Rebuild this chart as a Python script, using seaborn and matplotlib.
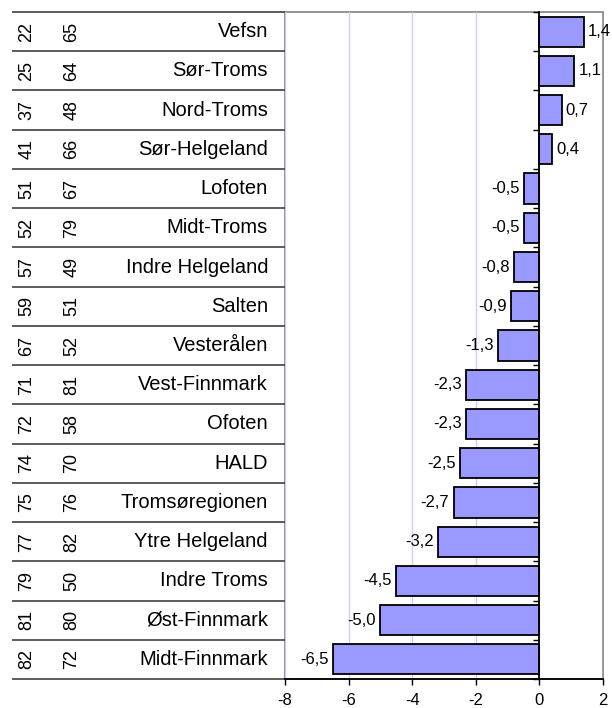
import numpy as np
import pandas as pd
import matplotlib
matplotlib.use("Agg")
import matplotlib.pyplot as plt
import matplotlib.transforms as mtransforms
import seaborn as sns

regions = ["Vefsn", "Sør-Troms", "Nord-Troms", "Sør-Helgeland", "Lofoten",
           "Midt-Troms", "Indre Helgeland", "Salten", "Vesterålen",
           "Vest-Finnmark", "Ofoten", "HALD", "Tromsøregionen",
           "Ytre Helgeland", "Indre Troms", "Øst-Finnmark", "Midt-Finnmark"]
values = [1.4, 1.1, 0.7, 0.4, -0.5, -0.5, -0.8, -0.9, -1.3, -2.3, -2.3,
          -2.5, -2.7, -3.2, -4.5, -5.0, -6.5]
rank_a = [22, 25, 37, 41, 51, 52, 57, 59, 67, 71, 72, 74, 75, 77, 79, 81, 82]
rank_b = [65, 64, 48, 66, 67, 79, 49, 51, 52, 81, 58, 70, 76, 82, 50, 80, 72]
xticks = [-8, -6, -4, -2, 0, 2]

sns.set_theme(style="white")
plt.rcParams["font.family"] = ["Liberation Sans", "DejaVu Sans"]
plt.rcParams["axes.unicode_minus"] = False
plt.rcParams["text.color"] = "black"
plt.rcParams["xtick.color"] = "black"
plt.rcParams["ytick.color"] = "black"
plt.rcParams["xtick.labelcolor"] = "black"

df = pd.DataFrame({"region": regions, "value": values})

fig = plt.figure(figsize=(6.12, 7.08), dpi=100)
W, H = 612, 708
left_px, right_px, top_px, bot_px = 285, 603, 12, 679
ax = fig.add_axes([left_px / W, 1 - bot_px / H, (right_px - left_px) / W,
                   (bot_px - top_px) / H])

sns.barplot(data=df, x="value", y="region", orient="h", order=regions,
            color="#9999FF", saturation=1, edgecolor="black", linewidth=1.3,
            width=0.77, ax=ax, zorder=3)

ax.set_xlim(-8, 2)
ax.set_ylim(len(regions) - 0.5, -0.5)
ax.set_xticks(xticks)
ax.set_xticklabels([str(t) for t in xticks], fontsize=12, color="black")
ax.set_xlabel("")
ax.set_ylabel("")

# grid
ax.grid(axis="x", color="#CCCCFF", linewidth=1, zorder=0)
ax.grid(axis="y", visible=False)
ax.set_axisbelow(True)

# frame
ax.patch.set_edgecolor("#808080")
ax.patch.set_linewidth(1.2)
for s in ["top", "right"]:
    ax.spines[s].set_visible(False)
ax.spines["bottom"].set_color("black")
ax.spines["bottom"].set_linewidth(1.3)
ax.spines["bottom"].set_zorder(5)
ax.spines["left"].set_position(("data", 0))
ax.spines["left"].set_color("black")
ax.spines["left"].set_linewidth(1.3)
ax.spines["left"].set_zorder(5)
ax.set_yticks(np.arange(-0.5, len(regions), 1.0))
ax.set_yticklabels([])
ax.tick_params(axis="y", direction="out", length=4, width=1, color="black",
               left=True)
ax.tick_params(axis="x", direction="out", length=4, width=1, color="black",
               bottom=True, pad=6)

# value labels
labels = [f"{v:.1f}".replace(".", ",") for v in values]
ax.bar_label(ax.containers[0], labels=labels, padding=3, fontsize=12,
             color="black")

# left table
trans = mtransforms.blended_transform_factory(ax.transAxes, ax.transData)
ax_w = right_px - left_px
x0 = (12 - left_px) / ax_w
ax.hlines(np.arange(-0.5, len(regions) + 0.5, 1.0), x0, 0, transform=trans,
          colors="#404040", linewidth=1.2, clip_on=False)
xa = (27 - left_px) / ax_w
xb = (72 - left_px) / ax_w
xn = (268 - left_px) / ax_w
for i, (r, a, b) in enumerate(zip(regions, rank_a, rank_b)):
    ax.text(xa, i, str(a), transform=trans, rotation=90, ha="center",
            va="center", fontsize=13, color="black")
    ax.text(xb, i, str(b), transform=trans, rotation=90, ha="center",
            va="center", fontsize=13, color="black")
    ax.text(xn, i, r, transform=trans, ha="right", va="center", fontsize=14.5,
            color="black")

fig.savefig("out.png", dpi=100)
